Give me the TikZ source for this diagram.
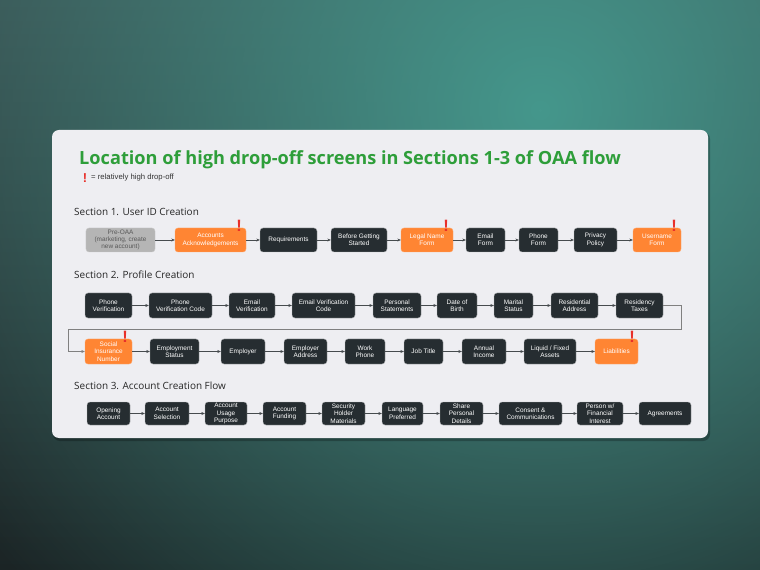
\documentclass[tikz,border=0pt]{standalone}
\usepackage{fontspec}
\setmainfont{Liberation Sans}
\newfontfamily\headfont{Open Sans}
\usetikzlibrary{arrows.meta,fadings}

\definecolor{cardbg}{HTML}{EEEEF2}
\definecolor{boxdark}{HTML}{262D31}
\definecolor{boxorange}{HTML}{FF8533}
\definecolor{boxgray}{HTML}{B5B5B5}
\definecolor{titlegreen}{HTML}{2E9E3A}
\definecolor{alertred}{HTML}{E8302A}
\definecolor{linegray}{HTML}{464B4E}
\definecolor{bgteal}{HTML}{45978C}
\definecolor{bgtop}{HTML}{3A4E4F}
\definecolor{bgbottom}{HTML}{1B2425}

\tikzfading[name=tealglow, inner color=transparent!0, outer color=transparent!100]

\tikzset{
  screen/.style={draw=white!65!boxdark, line width=0.3pt, fill=boxdark, text=white,
    rounded corners=2.5pt, minimum height=0.72cm, inner sep=1pt, align=center,
    font=\fontsize{5.5}{6.3}\selectfont},
  hot/.style={screen, fill=boxorange, draw=boxorange!70!white},
  pre/.style={screen, fill=boxgray, text=black!65, draw=boxgray!70!white},
  flow/.style={draw=linegray, line width=0.45pt, -{Stealth[length=3pt,width=2.6pt]}},
  alert/.style={text=alertred, font=\fontsize{14}{14}\bfseries\selectfont, inner sep=0pt},
  section/.style={anchor=base west, inner sep=0pt, text=black!85,
    font=\headfont\fontsize{8.5}{9}\selectfont},
}

\begin{document}
\begin{tikzpicture}[x=0.03cm, y=-0.03cm]
  \useasboundingbox (0,0) rectangle (760,570);

  % background and card
  \begin{scope}
    \clip (0,0) rectangle (760,570);
    \shade[top color=bgtop, bottom color=bgbottom] (0,0) rectangle (760,570);
    \fill[bgteal, path fading=tealglow] (540,110) circle (21cm);
  \end{scope}
  \fill[black, opacity=0.25, rounded corners=0.21cm] (53,132) rectangle (710,441);
  \fill[cardbg, rounded corners=0.21cm] (52,130) rectangle (708,438);

  % title and legend
  \node[anchor=base west, inner sep=0pt, text=titlegreen,
    font=\headfont\bfseries\fontsize{15.5}{16}\selectfont] (title) at (79,165)
    {Location of high drop-off screens in Sections 1-3 of OAA flow};
  \node[alert, font=\fontsize{11}{11}\bfseries\selectfont] (key) at (85,178) {!};
  \node[anchor=west, inner sep=0pt, font=\fontsize{6.6}{7}\selectfont, text=black!80] (keytext) at (91,178)
    {= relatively high drop-off};

  % Section 1
  \node[section] (s1) at (74,215.5) {Section 1. User ID Creation};
  \node[pre, minimum width=2.07cm] (preoaa) at (120.5,240) {Pre-OAA\\(marketing, create\\new account)};
  \node[hot, minimum width=2.13cm] (ack) at (210.5,240) {Accounts\\Acknowledgements};
  \node[screen, minimum width=1.71cm] (req) at (288.5,240) {Requirements};
  \node[screen, minimum width=1.68cm] (before) at (359,240) {Before Getting\\Started};
  \node[hot, minimum width=1.56cm] (legal) at (427,240) {Legal Name\\Form};
  \node[screen, minimum width=1.17cm] (emailf) at (485.5,240) {Email\\Form};
  \node[screen, minimum width=1.17cm] (phonef) at (538.5,240) {Phone\\Form};
  \node[screen, minimum width=1.29cm] (privacy) at (595.5,240) {Privacy\\Policy};
  \node[hot, minimum width=1.44cm] (username) at (657,240) {Username\\Form};

  \draw[flow] (preoaa) -- (ack);
  \draw[flow] (ack) -- (req);
  \draw[flow] (req) -- (before);
  \draw[flow] (before) -- (legal);
  \draw[flow] (legal) -- (emailf);
  \draw[flow] (emailf) -- (phonef);
  \draw[flow] (phonef) -- (privacy);
  \draw[flow] (privacy) -- (username);

  \node[alert] (ackmark) at ([xshift=-0.21cm, yshift=0.05cm]ack.north east) {!};
  \node[alert] (legalmark) at ([xshift=-0.21cm, yshift=0.05cm]legal.north east) {!};
  \node[alert] (usermark) at ([xshift=-0.21cm, yshift=0.05cm]username.north east) {!};

  % Section 2
  \node[section] (s2) at (74,279) {Section 2. Profile Creation};
  \node[screen, minimum width=1.41cm, minimum height=0.75cm] (pv) at (108.5,305.5) {Phone\\Verification};
  \node[screen, minimum width=1.89cm, minimum height=0.75cm] (pvc) at (180.5,305.5) {Phone\\Verification Code};
  \node[screen, minimum width=1.38cm, minimum height=0.75cm] (ev) at (252,305.5) {Email\\Verification};
  \node[screen, minimum width=1.89cm, minimum height=0.75cm] (evc) at (323.5,305.5) {Email Verification\\Code};
  \node[screen, minimum width=1.44cm, minimum height=0.75cm] (statements) at (397,305.5) {Personal\\Statements};
  \node[screen, minimum width=1.20cm, minimum height=0.75cm] (dob) at (457,305.5) {Date of\\Birth};
  \node[screen, minimum width=1.17cm, minimum height=0.75cm] (marital) at (513.5,305.5) {Marital\\Status};
  \node[screen, minimum width=1.41cm, minimum height=0.75cm] (address) at (574.5,305.5) {Residential\\Address};
  \node[screen, minimum width=1.41cm, minimum height=0.75cm] (taxes) at (639.5,305.5) {Residency\\Taxes};

  \node[hot, minimum width=1.41cm, minimum height=0.75cm] (sin) at (108.5,351.5) {Social\\Insurance\\Number};
  \node[screen, minimum width=1.47cm, minimum height=0.75cm] (empstatus) at (174.5,351.5) {Employment\\Status};
  \node[screen, minimum width=1.32cm, minimum height=0.75cm] (employer) at (243,351.5) {Employer};
  \node[screen, minimum width=1.29cm, minimum height=0.75cm] (empaddr) at (305.5,351.5) {Employer\\Address};
  \node[screen, minimum width=1.20cm, minimum height=0.75cm] (workphone) at (365,351.5) {Work\\Phone};
  \node[screen, minimum width=1.17cm, minimum height=0.75cm] (jobtitle) at (423.5,351.5) {Job Title};
  \node[screen, minimum width=1.32cm, minimum height=0.75cm] (income) at (484,351.5) {Annual\\Income};
  \node[screen, minimum width=1.56cm, minimum height=0.75cm] (assets) at (550,351.5) {Liquid / Fixed\\Assets};
  \node[hot, minimum width=1.29cm, minimum height=0.75cm] (liab) at (616.5,351.5) {Liabilities};

  \draw[flow] (pv) -- (pvc);
  \draw[flow] (pvc) -- (ev);
  \draw[flow] (ev) -- (evc);
  \draw[flow] (evc) -- (statements);
  \draw[flow] (statements) -- (dob);
  \draw[flow] (dob) -- (marital);
  \draw[flow] (marital) -- (address);
  \draw[flow] (address) -- (taxes);

  \coordinate (wrapR) at (681,329);
  \coordinate (wrapL) at (68,329);
  \draw[flow, draw=gray, line width=0.8pt] (taxes.east) -| (wrapR) -- (wrapL) |- (sin.west);

  \draw[flow] (sin) -- (empstatus);
  \draw[flow] (empstatus) -- (employer);
  \draw[flow] (employer) -- (empaddr);
  \draw[flow] (empaddr) -- (workphone);
  \draw[flow] (workphone) -- (jobtitle);
  \draw[flow] (jobtitle) -- (income);
  \draw[flow] (income) -- (assets);
  \draw[flow] (assets) -- (liab);

  \node[alert] (sinmark) at ([xshift=-0.21cm, yshift=0.05cm]sin.north east) {!};
  \node[alert] (liabmark) at ([xshift=-0.18cm, yshift=0.05cm]liab.north east) {!};

  % Section 3
  \node[section] (s3) at (74,389) {Section 3. Account Creation Flow};
  \node[screen, minimum width=1.29cm, minimum height=0.69cm] (opening) at (108.5,413.5) {Opening\\Account};
  \node[screen, minimum width=1.32cm, minimum height=0.69cm] (selection) at (167,413.5) {Account\\Selection};
  \node[screen, minimum width=1.26cm, minimum height=0.69cm] (usage) at (226,413.5) {Account\\Usage\\Purpose};
  \node[screen, minimum width=1.29cm, minimum height=0.69cm] (funding) at (284.5,413.5) {Account\\Funding};
  \node[screen, minimum width=1.29cm, minimum height=0.69cm] (security) at (343.5,413.5) {Security\\Holder\\Materials};
  \node[screen, minimum width=1.23cm, minimum height=0.69cm] (language) at (402.5,413.5) {Language\\Preferred};
  \node[screen, minimum width=1.29cm, minimum height=0.69cm] (share) at (461.5,413.5) {Share\\Personal\\Details};
  \node[screen, minimum width=1.89cm, minimum height=0.69cm] (consent) at (530.5,413.5) {Consent \&\\Communications};
  \node[screen, minimum width=1.38cm, minimum height=0.69cm] (interest) at (600,413.5) {Person w/\\Financial\\Interest};
  \node[screen, minimum width=1.56cm, minimum height=0.69cm] (agree) at (665,413.5) {Agreements};

  \draw[flow] (opening) -- (selection);
  \draw[flow] (selection) -- (usage);
  \draw[flow] (usage) -- (funding);
  \draw[flow] (funding) -- (security);
  \draw[flow] (security) -- (language);
  \draw[flow] (language) -- (share);
  \draw[flow] (share) -- (consent);
  \draw[flow] (consent) -- (interest);
  \draw[flow] (interest) -- (agree);
\end{tikzpicture}
\end{document}
